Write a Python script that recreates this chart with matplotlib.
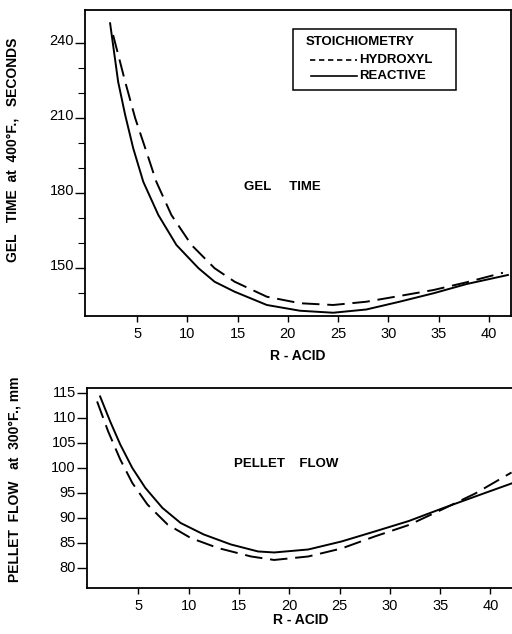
import matplotlib
matplotlib.use("Agg")
import matplotlib.pyplot as plt
import matplotlib.transforms as mtransforms
from matplotlib.patches import Rectangle

plt.rcParams['font.family'] = ['Liberation Sans', 'DejaVu Sans']

# gel time at 400 F vs R-acid
gel_x_hydroxyl = [2.6, 3.8, 4.8, 5.8, 6.9, 8.4, 10.4, 12.7, 14.7, 17.9, 21.2, 24.5, 27.8, 31.1, 34.5, 37.8, 41.4]
gel_hydroxyl = [243.2, 224.5, 209.9, 197.9, 184.5, 171.2, 159.2, 149.9, 144.5, 138.5, 135.9, 135.2, 136.5, 138.8, 141.2, 144.3, 148.1]
gel_x_reactive = [2.3, 3.1, 3.8, 4.6, 5.6, 7.1, 8.9, 11.1, 12.7, 14.7, 17.9, 21.2, 24.5, 27.8, 31.1, 34.5, 37.8, 41.9]
gel_reactive = [247.9, 224.5, 211.2, 197.9, 184.5, 171.2, 159.2, 149.9, 144.5, 140.5, 135.2, 132.9, 132.1, 133.4, 136.5, 139.9, 143.6, 147.2]

# pellet flow at 300 F vs R-acid
flow_x_hydroxyl = [0.9, 2.0, 3.2, 4.4, 5.9, 7.9, 10.2, 12.9, 16.2, 18.5, 21.9, 25.2, 28.5, 31.9, 35.2, 38.5, 42.1]
flow_hydroxyl = [113.3, 107.3, 101.7, 97.0, 92.7, 88.7, 86.0, 84.0, 82.3, 81.6, 82.3, 83.9, 86.3, 88.6, 91.7, 94.9, 99.1]
flow_x_reactive = [1.2, 2.2, 3.2, 4.4, 5.7, 7.4, 9.2, 11.5, 14.2, 16.9, 18.5, 21.9, 25.2, 28.5, 31.9, 35.2, 38.5, 42.1]
flow_reactive = [114.3, 109.3, 104.7, 100.0, 96.0, 92.0, 89.0, 86.7, 84.7, 83.3, 83.1, 83.7, 85.3, 87.3, 89.4, 91.9, 94.3, 96.9]

x_ticks = [5, 10, 15, 20, 25, 30, 35, 40]
gel_ticks = [150, 180, 210, 240]
gel_minor = [140, 160, 170, 190, 200, 220, 230]
flow_ticks = [80, 85, 90, 95, 100, 105, 110, 115]

fig = plt.figure(figsize=(5.12, 6.34), dpi=100)
ax1 = fig.add_axes([0.166, 0.5016, 0.832, 0.4826])
ax2 = fig.add_axes([0.170, 0.0726, 0.835, 0.3155])

DASH = (9, 4)
LW = 1.4


def style(ax, lift):
    for s in ax.spines.values():
        s.set_linewidth(1.3)
    ax.set_xticks(x_ticks)
    ax.tick_params(axis='x', direction='out', length=4, width=1, pad=4, labelsize=10.5)
    ax.tick_params(axis='y', which='major', direction='out', length=7, width=1, pad=1, labelsize=10.5)
    ax.tick_params(axis='y', which='minor', direction='out', length=5, width=0.8)
    # y labels ride a little above their tick marks
    off = mtransforms.ScaledTranslation(0, lift / 72, fig.dpi_scale_trans)
    for lbl in ax.get_yticklabels():
        lbl.set_transform(lbl.get_transform() + off)


# upper panel
ax1.plot(gel_x_hydroxyl, gel_hydroxyl, color='black', lw=LW, dashes=DASH)
ax1.plot(gel_x_reactive, gel_reactive, color='black', lw=LW)
ax1.set_xlim(-0.2, 42.2)
ax1.set_ylim(130.8, 253.2)
ax1.set_yticks(gel_ticks)
ax1.set_yticks(gel_minor, minor=True)
style(ax1, 2.2)
ax1.set_xlabel('R - ACID', fontsize=10, fontweight='bold', labelpad=6)
ax1.text(0.463, 0.422, 'GEL     TIME', transform=ax1.transAxes, fontsize=9.5,
         fontweight='bold', ha='center', va='center')

# key box
ax1.add_patch(Rectangle((0.488, 0.739), 0.383, 0.199, transform=ax1.transAxes,
                        fill=False, edgecolor='black', lw=1.1))
ax1.text(0.519, 0.896, 'STOICHIOMETRY', transform=ax1.transAxes, fontsize=9.5,
         fontweight='bold', ha='left', va='center')
ax1.plot([0.528, 0.638], [0.837, 0.837], transform=ax1.transAxes,
         color='black', lw=1.2, dashes=(3.2, 2.2))
ax1.text(0.644, 0.837, 'HYDROXYL', transform=ax1.transAxes, fontsize=9.5,
         fontweight='bold', ha='left', va='center')
ax1.plot([0.530, 0.638], [0.784, 0.784], transform=ax1.transAxes, color='black', lw=1.2)
ax1.text(0.644, 0.784, 'REACTIVE', transform=ax1.transAxes, fontsize=9.5,
         fontweight='bold', ha='left', va='center')

# lower panel
ax2.plot(flow_x_hydroxyl, flow_hydroxyl, color='black', lw=LW, dashes=DASH)
ax2.plot(flow_x_reactive, flow_reactive, color='black', lw=LW)
ax2.set_xlim(-0.1, 42.4)
ax2.set_ylim(76, 116)
ax2.set_yticks(flow_ticks)
style(ax2, 0.7)
ax2.set_xlabel('R - ACID', fontsize=10, fontweight='bold', labelpad=0)
ax2.text(0.466, 0.62, 'PELLET    FLOW', transform=ax2.transAxes, fontsize=9.5,
         fontweight='bold', ha='center', va='center')

fig.text(13 / 512, 1 - 150 / 634, 'GEL   TIME  at  400°F.,   SECONDS', rotation=90,
         ha='center', va='center', fontsize=10, fontweight='bold')
fig.text(15 / 512, 1 - 479 / 634, 'PELLET  FLOW   at  300°F., mm', rotation=90,
         ha='center', va='center', fontsize=10, fontweight='bold')

fig.savefig('out.png', dpi=100)
